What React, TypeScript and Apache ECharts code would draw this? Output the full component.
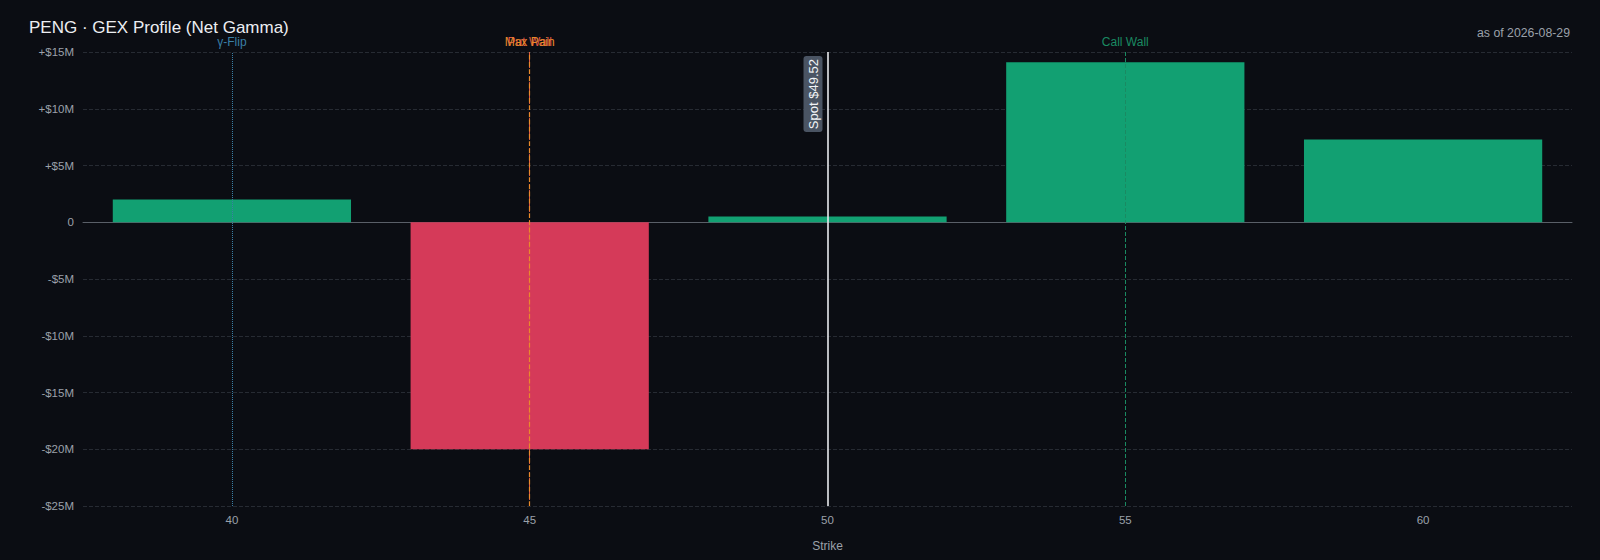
import React, { useEffect, useRef } from 'react'
import * as echarts from 'echarts'

const strikes = ['40', '45', '50', '55', '60']
const netGamma = [2.0, -20.0, 0.5, 14.1, 7.3] // $M
const yTicks = { min: -25, max: 15, step: 5 }

const spotPrice = 49.52
const spotStrike = '50'
const flipStrike = '40'
const maxPainStrike = '45'
const putWallStrike = '45'
const callWallStrike = '55'

const FONT = '"Liberation Sans", Arial, Helvetica, sans-serif'
const BG = '#0b0d13'
const GREEN = '#12a072'
const RED = '#d53a59'

const fmtMoney = (v: number) => {
  if (v === 0) return '0'
  return `${v > 0 ? '+' : '-'}$${Math.abs(v)}M`
}

const App: React.FC = () => {
  const chartRef = useRef<HTMLDivElement | null>(null)

  useEffect(() => {
    document.body.style.margin = '0'
    document.body.style.background = BG
    if (!chartRef.current) return
    const chart = echarts.init(chartRef.current, undefined, { renderer: 'svg' })

    const vLine = (x: string, name: string, color: string, type: 'dashed' | 'dotted' | 'solid', width = 1) => ({
      xAxis: x,
      lineStyle: { color, type, width },
      label: {
        show: true,
        formatter: name,
        position: 'end',
        color,
        fontSize: 12,
        fontFamily: FONT,
        distance: 4
      }
    })

    const option: echarts.EChartsOption = {
      animation: false,
      backgroundColor: BG,
      textStyle: { fontFamily: FONT },
      title: [
        {
          text: 'PENG · GEX Profile (Net Gamma)',
          left: 24,
          top: 14,
          textStyle: { color: '#eceef2', fontSize: 17, fontWeight: 'normal', fontFamily: FONT }
        },
        {
          text: 'as of 2026-08-29',
          right: 25,
          top: 22,
          textStyle: { color: '#9ba1aa', fontSize: 12.3, fontWeight: 'normal', fontFamily: FONT }
        }
      ],
      grid: { left: 83, right: 28, top: 52, bottom: 54 },
      xAxis: {
        type: 'category',
        data: strikes,
        name: 'Strike',
        nameLocation: 'middle',
        nameGap: 34,
        nameTextStyle: { color: '#9ba1aa', fontSize: 12 },
        axisLine: { onZero: true, lineStyle: { color: '#5a5f68', width: 1 } },
        axisTick: { show: false },
        axisLabel: { color: '#9ba1aa', fontSize: 11.5, margin: 8 },
        splitLine: { show: false }
      },
      yAxis: {
        type: 'value',
        min: yTicks.min,
        max: yTicks.max,
        interval: yTicks.step,
        axisLine: { show: false },
        axisTick: { show: false },
        axisLabel: { color: '#9ba1aa', fontSize: 11.5, margin: 9, formatter: (v: number) => fmtMoney(v) },
        splitLine: { lineStyle: { color: '#272b33', type: 'dashed', width: 1 } }
      },
      series: [
        {
          type: 'bar',
          data: netGamma.map((v) => ({ value: v, itemStyle: { color: v >= 0 ? GREEN : RED } })),
          barWidth: '80%',
          markLine: {
            symbol: 'none',
            silent: true,
            data: [
              vLine(flipStrike, 'γ-Flip', '#3a7fa6', 'dotted', 1),
              vLine(putWallStrike, 'Put Wall', '#d9544a', 'dashed', 1),
              vLine(maxPainStrike, 'Max Pain', '#e98a2a', 'dashed', 1.2),
              vLine(callWallStrike, 'Call Wall', '#1a8a62', 'dashed', 1),
              {
                xAxis: spotStrike,
                lineStyle: { color: '#e8eaee', type: 'solid', width: 1.6 },
                label: {
                  show: true,
                  formatter: `Spot $${spotPrice.toFixed(2)}`,
                  position: 'insideEndTop',
                  color: '#f2f4f7',
                  fontSize: 13,
                  fontFamily: FONT,
                  backgroundColor: '#4a5463',
                  borderRadius: 3,
                  padding: [3, 3],
                  distance: [4, 5]
                }
              }
            ] as any
          }
        }
      ]
    }

    chart.setOption(option)
    return () => {
      chart.dispose()
    }
  }, [])

  return <div ref={chartRef} style={{ width: 1600, height: 560 }} />
}

export default App
